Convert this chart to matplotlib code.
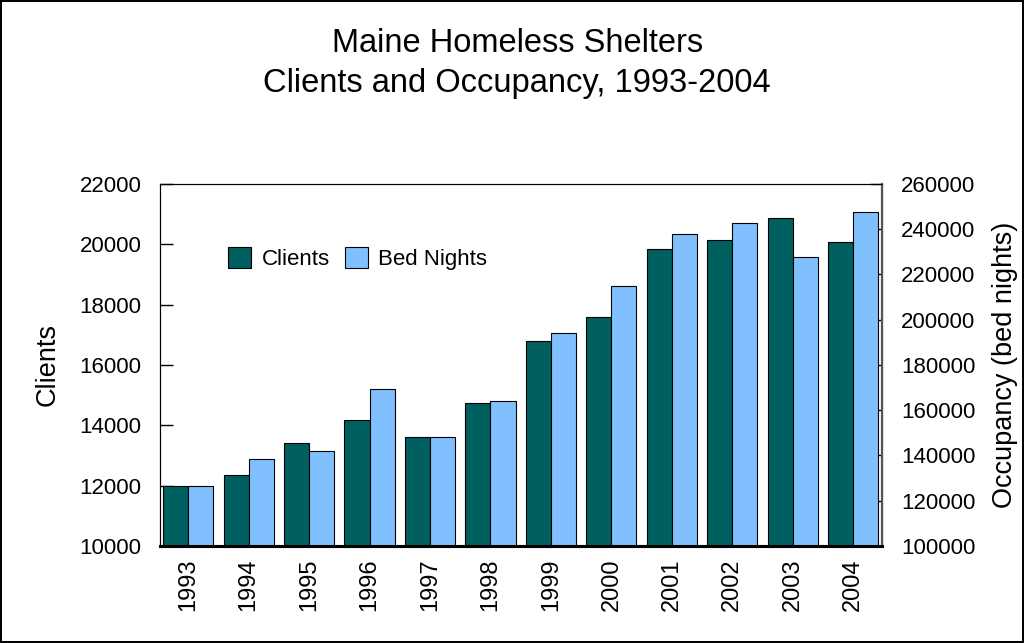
import numpy as np
from matplotlib import pyplot as plt
from matplotlib.patches import Patch

plt.rcParams['font.family'] = ['Liberation Sans', 'DejaVu Sans']

years = ['1993', '1994', '1995', '1996', '1997', '1998',
         '1999', '2000', '2001', '2002', '2003', '2004']
clients = [12000, 12340, 13420, 14190, 13620, 14730,
           16780, 17600, 19850, 20130, 20880, 20080]
bed_nights = [126500, 138300, 142100, 169400, 148300, 163900,
              194000, 215000, 237900, 242500, 227900, 247800]

TEAL = '#00605F'
LIGHT = '#80C0FF'


def main():
    fig = plt.figure(figsize=(10.24, 6.43), dpi=100)
    fig.patch.set_edgecolor('black')
    fig.patch.set_linewidth(1.5)

    ax = fig.add_axes([0.156, 0.151, 0.705, 0.563])
    ax2 = ax.twinx()

    x = np.arange(len(years))
    width = 0.415
    ax.bar(x - width / 2, clients, width, color=TEAL, edgecolor='black', linewidth=0.8, zorder=2)
    ax2.bar(x + width / 2, bed_nights, width, color=LIGHT, edgecolor='black', linewidth=0.8, zorder=2)

    ax.set_xlim(-0.5 + 0.03, len(years) - 0.5 - 0.03)
    ax.set_ylim(10000, 22000)
    ax2.set_ylim(100000, 260000)
    ax.set_yticks(range(10000, 22001, 2000))
    ax2.set_yticks(range(100000, 260001, 20000))

    ax.set_xticks(x)
    ax.set_xticklabels(years, rotation=90, fontsize=17)
    ax.tick_params(axis='x', direction='in', length=8, width=0.8, pad=9, color='#333333')
    ax.tick_params(axis='y', direction='in', length=9, width=1, labelsize=16, pad=13)
    ax2.tick_params(axis='y', direction='in', length=9, width=1, labelsize=16, pad=14)

    ax.set_ylabel('Clients', fontsize=19.5, labelpad=14)
    ax2.set_ylabel('Occupancy (bed nights)', fontsize=19.5, rotation=90, labelpad=12)

    ax.spines['bottom'].set_linewidth(2.2)
    ax2.spines['bottom'].set_linewidth(2.2)
    ax2.spines['right'].set_color('#555555')
    ax2.spines['right'].set_linewidth(1.6)

    handles = [Patch(facecolor=TEAL, edgecolor='black', linewidth=0.8),
               Patch(facecolor=LIGHT, edgecolor='black', linewidth=0.8)]
    ax2.legend(handles, ['Clients', 'Bed Nights'], loc='upper left', bbox_to_anchor=(0.067, 0.88),
               ncol=2, frameon=False, fontsize=16, handlelength=1.05, handleheight=1.05,
               handletextpad=0.45, columnspacing=0.7)

    fig.text(0.505, 0.932, 'Maine Homeless Shelters', ha='center', va='center', fontsize=23.5)
    fig.text(0.505, 0.870, 'Clients and Occupancy, 1993-2004', ha='center', va='center', fontsize=23.5)

    fig.savefig('out.png', dpi=100)
    plt.close(fig)


if __name__ == '__main__':
    main()
